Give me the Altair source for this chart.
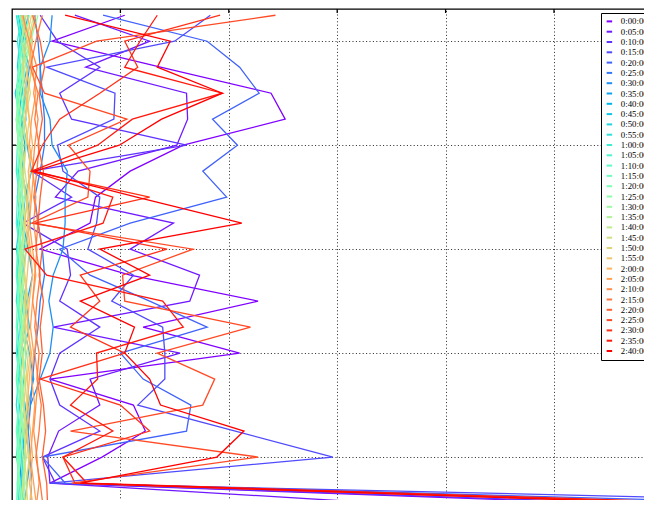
import altair as alt
import numpy as np
import pandas as pd

# depth levels (arbitrary units, 5 per level)
depths = [0, 5, 10, 15, 20, 25, 30, 35, 40, 45, 50, 55, 60, 65, 70, 75, 80, 85, 90, 95]

time_labels = ["0:00:00", "0:05:00", "0:10:00", "0:15:00", "0:20:00", "0:25:00", "0:30:00",
               "0:35:00", "0:40:00", "0:45:00", "0:50:00", "0:55:00", "1:00:00", "1:05:00",
               "1:10:00", "1:15:00", "1:20:00", "1:25:00", "1:30:00", "1:35:00", "1:40:00",
               "1:45:00", "1:50:00", "1:55:00", "2:00:00", "2:05:00", "2:10:00", "2:15:00",
               "2:20:00", "2:25:00", "2:30:00", "2:35:00", "2:40:00"]

p_0000 = [10.4, 3.7, 13.7, 23.9, 25.2, 15.8, 10.9, 7.7, 7.2, 2.6, 10.9, 22.7, 12.1, 21.0, 3.5, 11.2, 12.3, 8.3, 3.5, 69]
p_0005 = [5.8, 12.7, 6.8, 16.1, 16.2, 15.2, 6.1, 4.0, 14.9, 10.9, 17.3, 16.4, 3.8, 15.5, 7.2, 8.1, 4.3, 3.3, 3.5, 43]
p_0010 = [2.6, 4.2, 8.1, 4.4, 5.5, 16.1, 1.8, 5.5, 1.0, 5.1, 5.4, 4.4, 8.1, 4.4, 3.5, 4.4, 8.1, 2.8, 4.0, 72]
p_0015 = [18.3, 15.0, 3.2, 9.5, 9.4, 4.2, 4.7, 8.1, 7.8, 7.0, 11.2, 9.2, 13.9, 14.1, 14.1, 11.6, 20.6, 29.6, 3.5, 107]
p_0020 = [8.4, 18.0, 21.0, 22.8, 18.5, 20.8, 17.6, 19.8, 10.9, 4.4, 7.2, 12.7, 18.0, 10.0, 12.1, 16.5, 16.1, 2.8, 4.9, 90]
p_0025 = [2.1, 2.4, 2.6, 2.8, 3.0, 3.0, 2.6, 2.1, 2.4, 2.8, 3.0, 2.6, 2.4, 2.1, 1.9, 1.7, 1.5, 1.7, 1.8, 1.7]
p_0030 = [3.7, 3.5, 2.6, 2.6, 3.5, 3.7, 5.1, 4.9, 4.9, 4.7, 3.8, 3.4, 3.8, 3.5, 2.6, 1.7, 1.2, 0.9, 0.7, 0.6]
p_0035 = [1.5, 1.0, 1.6, 1.3, 0.9, 1.4, 1.8, 1.2, 1.0, 1.5, 1.9, 1.4, 1.1, 1.6, 2.0, 1.5, 1.2, 1.7, 1.4, 1.1]
p_0040 = [0.8, 1.3, 0.9, 0.3, 0.8, 1.2, 0.9, 1.4, 1.7, 1.1, 0.8, 1.3, 1.6, 1.0, 0.7, 1.2, 1.5, 1.0, 0.8, 1.2]
p_0045 = [0.6, 1.0, 1.4, 0.9, 0.6, 1.0, 0.7, 0.5, 0.9, 1.3, 1.0, 0.6, 0.9, 1.3, 1.1, 0.7, 0.9, 1.2, 0.9, 0.6]
p_0050 = [1.1, 0.7, 0.5, 1.0, 1.3, 0.8, 0.6, 1.0, 0.7, 0.4, 0.8, 1.1, 0.7, 0.5, 0.9, 1.2, 0.8, 0.5, 0.7, 1.0]
p_0055 = [0.4, 0.8, 1.1, 0.7, 0.4, 0.6, 1.0, 0.8, 0.5, 0.8, 0.6, 0.4, 0.8, 1.0, 0.6, 0.4, 0.7, 0.9, 1.1, 0.8]
p_0100 = [0.9, 0.5, 0.8, 1.2, 0.9, 0.5, 0.4, 0.7, 1.0, 0.6, 0.5, 0.9, 1.2, 0.8, 0.5, 0.8, 1.1, 0.7, 0.5, 0.6]
p_0105 = [0.5, 0.9, 0.6, 0.4, 0.7, 1.0, 0.7, 0.5, 0.4, 0.7, 1.0, 0.7, 0.5, 0.4, 0.7, 0.9, 0.6, 0.4, 0.8, 0.9]
p_0110 = [1.3, 0.9, 0.6, 0.8, 1.1, 0.8, 0.5, 0.7, 0.9, 0.5, 0.4, 0.6, 0.9, 0.6, 0.4, 0.6, 0.5, 0.8, 1.0, 0.7]
p_0115 = [0.7, 1.2, 0.9, 0.5, 0.6, 0.9, 1.1, 0.8, 0.6, 0.9, 0.7, 0.5, 0.4, 0.7, 0.9, 0.6, 0.4, 0.6, 0.5, 0.4]
p_0120 = [1.6, 1.1, 0.7, 0.4, 0.5, 0.7, 0.9, 0.6, 0.8, 1.1, 0.8, 0.6, 0.9, 0.7, 0.5, 0.8, 1.0, 0.7, 0.6, 0.8]
p_0125 = [2.4, 1.7, 1.0, 0.6, 0.8, 0.5, 0.7, 1.0, 1.2, 0.8, 0.6, 0.9, 0.7, 1.0, 1.2, 0.9, 0.7, 0.5, 0.7, 1.0]
p_0130 = [1.0, 1.8, 1.2, 0.8, 0.4, 0.6, 0.9, 1.2, 0.8, 0.6, 0.9, 1.2, 1.0, 0.7, 0.9, 1.1, 0.8, 1.0, 1.2, 0.9]
p_0135 = [2.0, 1.5, 0.9, 1.1, 0.7, 1.0, 0.8, 0.6, 1.0, 1.3, 1.1, 0.8, 1.0, 1.3, 1.0, 0.8, 1.1, 1.3, 1.0, 0.8]
p_0140 = [0.8, 1.4, 1.9, 1.4, 1.0, 1.3, 1.1, 0.9, 1.2, 0.9, 0.7, 1.0, 1.3, 1.1, 0.8, 1.0, 1.3, 1.1, 1.4, 1.2]
p_0145 = [1.2, 0.9, 1.3, 1.7, 1.2, 0.9, 1.2, 1.5, 1.1, 0.9, 1.2, 1.5, 1.1, 0.9, 1.2, 1.4, 1.1, 1.3, 1.0, 1.3]
p_0150 = [1.8, 1.3, 1.0, 1.4, 1.6, 1.3, 1.0, 1.3, 1.6, 1.3, 1.1, 1.4, 1.2, 1.5, 1.3, 1.1, 1.4, 1.6, 1.3, 1.5]
p_0155 = [0.9, 1.4, 1.8, 1.5, 1.2, 1.5, 1.7, 1.4, 1.2, 1.6, 1.4, 1.2, 1.5, 1.7, 1.4, 1.6, 1.3, 1.5, 1.8, 1.6]
p_0200 = [1.4, 1.9, 1.5, 1.2, 1.6, 1.9, 1.5, 1.7, 1.4, 1.7, 1.9, 1.6, 1.4, 1.8, 1.6, 1.4, 1.7, 1.9, 1.6, 2.0]
p_0205 = [2.2, 1.6, 1.9, 2.2, 1.8, 1.6, 2.0, 1.8, 1.6, 1.9, 2.2, 1.9, 1.7, 2.0, 1.8, 2.1, 1.9, 1.7, 2.0, 2.3]
p_0210 = [1.0, 1.6, 2.3, 2.0, 2.4, 2.1, 1.9, 2.2, 2.0, 2.3, 2.1, 1.9, 2.3, 2.1, 2.4, 2.2, 2.0, 2.3, 2.5, 2.2]
p_0215 = [2.8, 2.2, 1.7, 2.4, 2.1, 2.5, 2.3, 2.0, 2.4, 2.2, 2.6, 2.3, 2.1, 2.5, 2.3, 2.7, 2.5, 2.2, 2.6, 2.9]
p_0220 = [1.9, 2.6, 3.0, 2.5, 2.8, 2.4, 2.9, 2.6, 2.4, 2.8, 2.5, 2.9, 2.6, 2.8, 2.5, 2.9, 3.1, 2.8, 3.2, 3.3]
p_0225 = [24.3, 7.8, 1.9, 3.0, 10.6, 5.2, 7.2, 7.0, 1.8, 16.7, 10.2, 10.4, 22.0, 13.4, 18.7, 17.6, 5.4, 22.7, 5.5, 80]
p_0230 = [19.2, 10.4, 11.6, 8.1, 4.4, 2.8, 1.8, 12.7, 2.1, 14.3, 6.3, 8.1, 5.4, 10.4, 2.6, 10.0, 12.7, 4.7, 5.8, 78]
p_0235 = [13.4, 11.8, 10.4, 19.4, 11.1, 7.9, 1.8, 9.3, 8.4, 1.2, 3.2, 13.9, 15.8, 7.8, 7.9, 5.4, 9.3, 4.7, 6.9, 82]
p_0240 = [4.9, 14.6, 13.4, 19.4, 13.8, 9.9, 2.1, 11.5, 21.2, 8.1, 12.7, 6.3, 11.3, 10.4, 12.7, 13.7, 21.4, 18.9, 6.3, 76]

profiles = [p_0000, p_0005, p_0010, p_0015, p_0020, p_0025, p_0030, p_0035, p_0040, p_0045,
            p_0050, p_0055, p_0100, p_0105, p_0110, p_0115, p_0120, p_0125, p_0130, p_0135,
            p_0140, p_0145, p_0150, p_0155, p_0200, p_0205, p_0210, p_0215, p_0220, p_0225,
            p_0230, p_0235, p_0240]

x_grid = [10, 20, 30, 40, 50]
y_grid = [5, 25, 45, 65, 85]

rows = []
for lab, prof in zip(time_labels, profiles):
    for d, v in zip(depths, prof):
        rows.append({"time": lab, "depth": d, "value": v})
df = pd.DataFrame(rows)


def rainbow(t):
    r = min(1.0, abs(2 * t - 0.5))
    g = np.sin(np.pi * t)
    b = np.cos(np.pi * t / 2)
    return "#%02x%02x%02x" % (int(round(r * 255)), int(round(g * 255)), int(round(max(b, 0) * 255)))


n = len(time_labels)
colors = [rainbow(i / (n - 1)) for i in range(n)]

xscale = alt.Scale(domain=[0, 59.04], nice=False, zero=False)
yscale = alt.Scale(domain=[-1.2, 94.8], reverse=True, nice=False, zero=False)
xaxis = alt.Axis(values=x_grid, labels=False, ticks=False, domain=False, title=None,
                 grid=True, gridColor="black", gridDash=[1, 2.4], gridWidth=1, gridOpacity=0.85)
yaxis = alt.Axis(values=y_grid, labels=False, ticks=False, domain=False, title=None,
                 grid=True, gridColor="black", gridDash=[1, 2.4], gridWidth=1, gridOpacity=0.85)

lines = alt.Chart(df).mark_line(strokeWidth=1.3, clip=True).encode(
    x=alt.X("value:Q", scale=xscale, axis=xaxis),
    y=alt.Y("depth:Q", scale=yscale, axis=yaxis),
    color=alt.Color("time:N", scale=alt.Scale(domain=time_labels, range=colors),
                    legend=alt.Legend(title=None, orient="none", legendX=589, legendY=4,
                                      symbolType="stroke", symbolSize=30, symbolStrokeWidth=2,
                                      labelFont="Liberation Serif", labelFontSize=8.8,
                                      labelColor="black", padding=4, fillColor="white",
                                      strokeColor="black", rowPadding=0.3, labelOffset=7,
                                      cornerRadius=0, symbolLimit=40)),
    order=alt.Order("depth:Q"),
)

ytick_df = pd.DataFrame({"depth": y_grid})
xtick_df = pd.DataFrame({"value": x_grid})
yticks = alt.Chart(ytick_df).mark_rule(color="black", strokeWidth=1.3).encode(
    y=alt.Y("depth:Q", scale=yscale, axis=yaxis), x=alt.value(0), x2=alt.value(4))
xticks = alt.Chart(xtick_df).mark_rule(color="black", strokeWidth=1.3).encode(
    x=alt.X("value:Q", scale=xscale, axis=xaxis), y=alt.value(0), y2=alt.value(4))

chart = alt.layer(lines, yticks, xticks).properties(
    width=640, height=499,
    autosize=alt.AutoSizeParams(type="none"),
    padding={"left": 4, "top": 1, "right": -8, "bottom": -8},
    background="white",
).configure_view(stroke="black", strokeWidth=1.3)

chart.save("out.html", embed_options={"renderer": "svg", "actions": False})
